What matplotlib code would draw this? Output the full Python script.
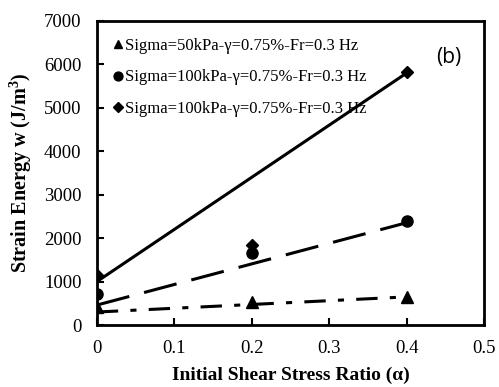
import matplotlib.pyplot as plt

plt.rcParams['font.family'] = ['Liberation Serif', 'DejaVu Serif']
plt.rcParams['mathtext.fontset'] = 'custom'
plt.rcParams['mathtext.rm'] = 'Liberation Serif'
plt.rcParams['mathtext.bf'] = 'Liberation Serif:bold'

alpha = [0.0, 0.2, 0.4]
w_50 = [420, 540, 650]
w_100 = [710, 1650, 2400]
w_100b = [1150, 1850, 5830]

labels = [
    'Sigma=50kPa-γ=0.75%-Fr=0.3 Hz',
    'Sigma=100kPa-γ=0.75%-Fr=0.3 Hz',
    'Sigma=100kPa-γ=0.75%-Fr=0.3 Hz',
]

# hand-drawn trend lines (start, end)
trend_50_x = [0.0, 0.39]
trend_50_y = [300, 640]
trend_100_x = [0.0, 0.42]
trend_100_y = [460, 2450]
trend_100b_x = [0.0, 0.4]
trend_100b_y = [1000, 5800]

fig = plt.figure(figsize=(4.99, 3.87), dpi=100)
ax = fig.add_axes([0.194, 0.160, 0.776, 0.786])

ax.plot(trend_50_x, trend_50_y, color='black', lw=2.2, dashes=(7, 4, 2, 4))
ax.plot(trend_100_x, trend_100_y, color='black', lw=2.2, dashes=(11, 5))
ax.plot(trend_100b_x, trend_100b_y, color='black', lw=2.2)

ax.plot(alpha, w_50, ls='none', marker='^', ms=8, color='black', label=labels[0])
ax.plot(alpha, w_100, ls='none', marker='o', ms=8, color='black', label=labels[1])
ax.plot(alpha, w_100b, ls='none', marker='D', ms=6.5, color='black', label=labels[2])

ax.set_xlim(0, 0.5)
ax.set_ylim(0, 7000)
ax.set_xticks([0, 0.1, 0.2, 0.3, 0.4, 0.5])
ax.set_xticklabels(['0', '0.1', '0.2', '0.3', '0.4', '0.5'])
ax.set_yticks(range(0, 7001, 1000))
ax.tick_params(direction='in', labelsize=13.5, width=1.5, length=5, pad=11)
for s in ax.spines.values():
    s.set_linewidth(2)

ax.set_xlabel('Initial Shear Stress Ratio (α)', fontsize=14, fontweight='bold', labelpad=7)
ax.set_ylabel('Strain Energy w (J/m$^\\mathbf{3}$)', fontsize=14.5, fontweight='bold', labelpad=7)

ax.legend(loc='upper left', frameon=False, fontsize=12, handlelength=0.5,
          handletextpad=0.2, labelspacing=0.95, borderaxespad=0.6, markerscale=0.8)

ax.text(0.455, 6150, '(b)', fontsize=15, family='Open Sans', ha='center', va='center')

fig.savefig('out.png', dpi=100)
